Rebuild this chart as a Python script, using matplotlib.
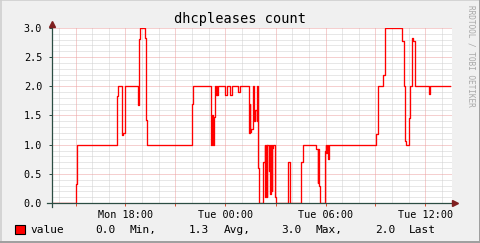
import matplotlib
matplotlib.use("Agg")
import matplotlib.pyplot as plt
import numpy as np
from matplotlib.patches import Rectangle
from matplotlib.lines import Line2D

# hours since Mon 00:00 and lease count (step series)
times = [13.56, 15.02, 15.10, 17.48, 17.56, 17.76, 17.88, 17.96,
         18.74, 18.82, 18.90, 19.16, 19.24, 19.30,
         22.00, 22.08,
         23.12, 23.16, 23.22, 23.28, 23.31, 23.40, 23.43, 23.49, 23.52, 23.55,
         24.00, 24.10, 24.26, 24.40, 24.78, 24.90,
         25.40, 25.42, 25.47, 25.50, 25.54, 25.64, 25.74, 25.80, 25.86, 25.90, 25.94, 26.00,
         26.24, 26.34, 26.38, 26.42, 26.46, 26.48, 26.60, 26.64, 26.67, 26.72, 26.76, 26.80, 26.84, 26.94, 27.00,
         27.76, 27.86, 27.90, 28.56, 28.64,
         29.44, 29.54, 29.56, 29.60, 29.68, 29.96, 30.00, 30.04, 30.08, 30.12, 30.20,
         33.04, 33.14, 33.44, 33.56, 34.60, 34.72, 34.78, 34.86, 35.02, 35.08, 35.18, 35.26, 35.38,
         36.21, 36.28, 37.50]
values = [0.0, 0.32, 1.0, 1.83, 2.0, 1.17, 1.2, 2.0,
          1.68, 2.81, 3.0, 2.83, 1.42, 1.0,
          1.69, 2.0,
          1.92, 1.0, 1.5, 1.0, 1.47, 2.0, 1.85, 2.0, 1.85, 2.0,
          1.85, 2.0, 1.85, 2.0, 1.9, 2.0,
          1.67, 1.2, 1.7, 1.22, 1.26, 2.0, 1.4, 1.6, 1.4, 2.0, 0.6, 0.0,
          0.7, 1.0, 0.1, 1.0, 0.1, 1.0, 0.55, 1.0, 0.15, 1.0, 0.2, 0.95, 1.0, 0.1, 0.0,
          0.71, 0.54, 0.0, 0.7, 1.0,
          0.93, 0.35, 0.93, 0.3, 0.0, 0.9, 1.0, 0.85, 1.0, 0.75, 1.0,
          1.19, 2.0, 2.19, 3.0, 2.78, 2.0, 1.06, 1.0, 1.45, 2.0, 2.82, 2.78, 2.0,
          1.87, 2.0, 2.0]

tick_hours = [15, 18, 21, 24, 27, 30, 33, 36]
tick_labels = ["", "Mon 18:00", "", "Tue 00:00", "", "Tue 06:00", "", "Tue 12:00"]
y_ticks = [0.0, 0.5, 1.0, 1.5, 2.0, 2.5, 3.0]

legend_name = "value"
legend_stats = ["0.0", "Min,", "1.3", "Avg,", "3.0", "Max,", "2.0", "Last"]

W, H = 481, 243
MONO = "DejaVu Sans Mono"


def fx(x):
    return x / W


def fy(y):
    return 1 - y / H


fig = plt.figure(figsize=(W / 100, H / 100), dpi=100, facecolor="#f0f0f0")
ax = fig.add_axes([fx(51.5), fy(203), 400 / W, 175 / H], facecolor="white")
ax.set_xlim(13.56, 37.56)
ax.set_ylim(0, 3.0)

# grid, rrdtool style
minor_c = "#d0d0d0"
major_c = "#eca0a0"
for h in np.arange(14, 38):
    if h % 3:
        ax.axvline(h, color=minor_c, lw=0.72, dashes=(1, 1), zorder=1)
for v in np.arange(0.1, 3.0, 0.1):
    if abs(v * 2 - round(v * 2)) > 1e-6:
        ax.axhline(v, color=minor_c, lw=0.72, dashes=(1, 1), zorder=1)
for h in tick_hours:
    ax.axvline(h, color=major_c, lw=0.72, dashes=(1, 1), zorder=2)
for v in y_ticks[1:]:
    ax.axhline(v, color=major_c, lw=0.72, dashes=(1, 1), zorder=2)

ax.step(times, values, where="post", color="#ff0000", lw=0.95, zorder=5)

for s in ax.spines.values():
    s.set_visible(False)

ax.set_xticks(tick_hours)
ax.set_xticklabels(tick_labels, fontfamily=MONO, fontsize=7.3)
ax.set_yticks(y_ticks)
ax.set_yticklabels(["%.1f" % v for v in y_ticks], fontfamily=MONO, fontsize=7.3)
ax.tick_params(axis="x", length=2.2, width=0.72, color="#de5030", pad=2.5)
ax.tick_params(axis="y", length=2.2, width=0.72, color="#2c4d43", pad=4.5)

# axes with arrows
axis_c = "#2c4d43"
arrow_c = "#7f1f1f"
ax.plot([-4.8 / 400, 1.0 + 1 / 400], [0, 0], transform=ax.transAxes,
        color=axis_c, lw=0.9, clip_on=False, zorder=6)
ax.plot([0, 0], [-4 / 175, 1.0 + 2 / 175], transform=ax.transAxes,
        color=axis_c, lw=0.9, clip_on=False, zorder=6)
ax.plot([1.0 + 3 / 400], [0], marker=">", ms=4.5, color=arrow_c,
        transform=ax.transAxes, clip_on=False, zorder=7)
ax.plot([0], [1.0 + 4 / 175], marker="^", ms=4.5, color=arrow_c,
        transform=ax.transAxes, clip_on=False, zorder=7)

fig.text(fx(240), fy(19), "dhcpleases count", ha="center", va="center",
         fontfamily=MONO, fontsize=9.8)
fig.text(fx(471.5), fy(5), "RRDTOOL / TOBI OETIKER", ha="center", va="top",
         rotation=270, fontfamily=MONO, fontsize=5.6, color="#a8a8a8")

# legend
fig.add_artist(Rectangle((fx(15), fy(233.5)), 9.5 / W, 8.5 / H,
                         transform=fig.transFigure, facecolor="#ff0000",
                         edgecolor="black", lw=0.8))
fig.text(fx(30.5), fy(229.5), legend_name, ha="left", va="center",
         fontfamily=MONO, fontsize=8)
stat_x = [95.5, 130, 188.5, 223.3, 281.5, 316, 375, 409.3]
for x, s in zip(stat_x, legend_stats):
    fig.text(fx(x), fy(229.5), s, ha="left", va="center", fontfamily=MONO, fontsize=8)

# shaded frame
fig.add_artist(Line2D([0, 1], [fy(0.5), fy(0.5)], transform=fig.transFigure, color="#cfcfcf", lw=1.2))
fig.add_artist(Line2D([fx(0.5), fx(0.5)], [0, 1], transform=fig.transFigure, color="#cfcfcf", lw=1.2))
fig.add_artist(Line2D([0, 1], [fy(242.2), fy(242.2)], transform=fig.transFigure, color="#9e9e9e", lw=1.4))
fig.add_artist(Line2D([fx(480.2), fx(480.2)], [0, 1], transform=fig.transFigure, color="#9e9e9e", lw=1.4))

fig.savefig("out.png", dpi=100, facecolor=fig.get_facecolor())
